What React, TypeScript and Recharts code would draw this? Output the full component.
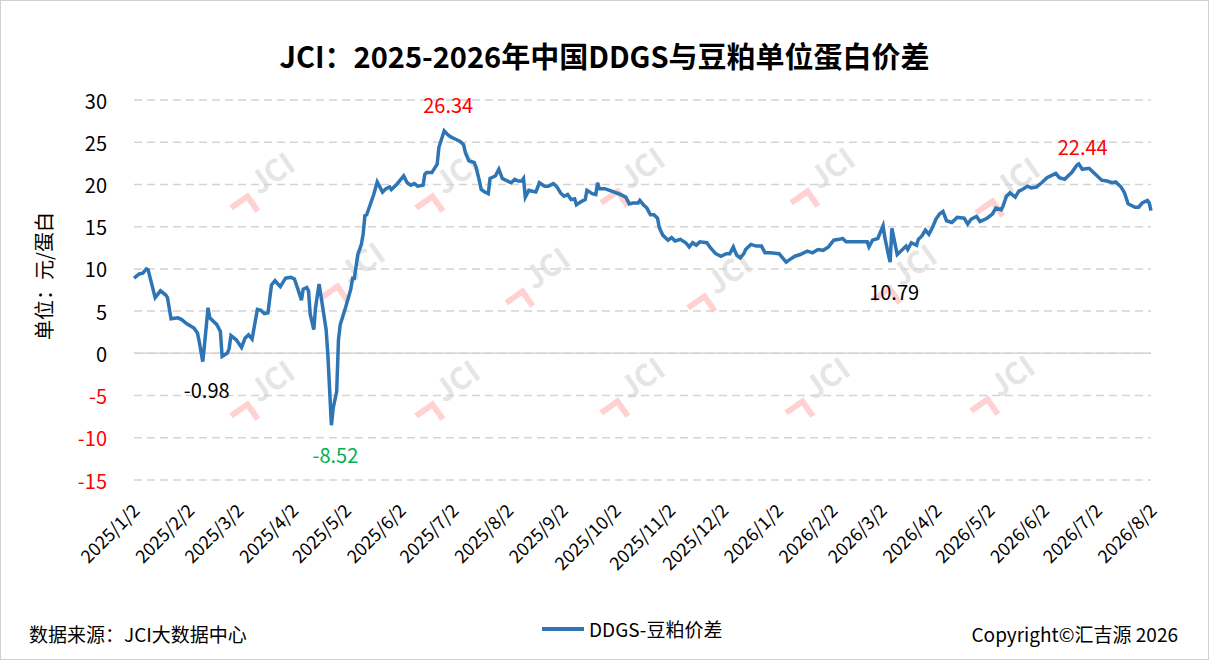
import React from "react"
import {
  LineChart,
  Line,
  XAxis,
  YAxis,
  CartesianGrid,
  ReferenceLine,
  ReferenceDot,
} from "recharts"

const dates = [
  "2025-01-02", "2025-01-05", "2025-01-07", "2025-01-09", "2025-01-10", "2025-01-14", "2025-01-17", "2025-01-20",
  "2025-01-21", "2025-01-23", "2025-01-27", "2025-01-29", "2025-02-01", "2025-02-05", "2025-02-07", "2025-02-08",
  "2025-02-10", "2025-02-11", "2025-02-13", "2025-02-14", "2025-02-18", "2025-02-20", "2025-02-21", "2025-02-24",
  "2025-02-25", "2025-02-26", "2025-03-01", "2025-03-04", "2025-03-06", "2025-03-08", "2025-03-10", "2025-03-13",
  "2025-03-15", "2025-03-17", "2025-03-19", "2025-03-21", "2025-03-23", "2025-03-26", "2025-03-29", "2025-04-01",
  "2025-04-03", "2025-04-05", "2025-04-07", "2025-04-08", "2025-04-10", "2025-04-11", "2025-04-12", "2025-04-14",
  "2025-04-15", "2025-04-17", "2025-04-18", "2025-04-21", "2025-04-22", "2025-04-24", "2025-04-25", "2025-04-27",
  "2025-04-28", "2025-04-29", "2025-05-02", "2025-05-05", "2025-05-06", "2025-05-07", "2025-05-09", "2025-05-11",
  "2025-05-12", "2025-05-13", "2025-05-14", "2025-05-16", "2025-05-18", "2025-05-20", "2025-05-23", "2025-05-25",
  "2025-05-27", "2025-05-28", "2025-05-31", "2025-06-04", "2025-06-06", "2025-06-08", "2025-06-10", "2025-06-12",
  "2025-06-15", "2025-06-16", "2025-06-17", "2025-06-20", "2025-06-23", "2025-06-24", "2025-06-27", "2025-06-29",
  "2025-07-01", "2025-07-02", "2025-07-06", "2025-07-08", "2025-07-09", "2025-07-11", "2025-07-14", "2025-07-15",
  "2025-07-17", "2025-07-18", "2025-07-20", "2025-07-22", "2025-07-23", "2025-07-26", "2025-07-28", "2025-07-30",
  "2025-08-02", "2025-08-04", "2025-08-06", "2025-08-08", "2025-08-10", "2025-08-11", "2025-08-12", "2025-08-14",
  "2025-08-16", "2025-08-18", "2025-08-20", "2025-08-23", "2025-08-25", "2025-08-28", "2025-08-30", "2025-09-01",
  "2025-09-03", "2025-09-05", "2025-09-07", "2025-09-09", "2025-09-10", "2025-09-13", "2025-09-15", "2025-09-16",
  "2025-09-19", "2025-09-21", "2025-09-22", "2025-09-23", "2025-09-26", "2025-09-30", "2025-10-04", "2025-10-08",
  "2025-10-10", "2025-10-12", "2025-10-15", "2025-10-16", "2025-10-18", "2025-10-20", "2025-10-22", "2025-10-24",
  "2025-10-26", "2025-10-27", "2025-10-29", "2025-11-01", "2025-11-03", "2025-11-05", "2025-11-08", "2025-11-11",
  "2025-11-13", "2025-11-15", "2025-11-17", "2025-11-19", "2025-11-23", "2025-11-25", "2025-11-28", "2025-12-01",
  "2025-12-04", "2025-12-06", "2025-12-08", "2025-12-10", "2025-12-12", "2025-12-14", "2025-12-15", "2025-12-18",
  "2025-12-21", "2025-12-24", "2025-12-26", "2025-12-29", "2026-01-03", "2026-01-05", "2026-01-07", "2026-01-09",
  "2026-01-12", "2026-01-15", "2026-01-19", "2026-01-22", "2026-01-25", "2026-01-28", "2026-01-31", "2026-02-03",
  "2026-02-06", "2026-02-08", "2026-02-10", "2026-02-14", "2026-02-19", "2026-02-22", "2026-02-23", "2026-02-25",
  "2026-02-28", "2026-03-03", "2026-03-04", "2026-03-06", "2026-03-07", "2026-03-08", "2026-03-11", "2026-03-13",
  "2026-03-16", "2026-03-17", "2026-03-19", "2026-03-22", "2026-03-23", "2026-03-25", "2026-03-27", "2026-03-29",
  "2026-03-31", "2026-04-02", "2026-04-04", "2026-04-06", "2026-04-08", "2026-04-11", "2026-04-14", "2026-04-18",
  "2026-04-20", "2026-04-22", "2026-04-25", "2026-04-27", "2026-05-01", "2026-05-04", "2026-05-06", "2026-05-09",
  "2026-05-10", "2026-05-12", "2026-05-14", "2026-05-17", "2026-05-19", "2026-05-21", "2026-05-24", "2026-05-26",
  "2026-05-29", "2026-06-01", "2026-06-04", "2026-06-07", "2026-06-09", "2026-06-11", "2026-06-14", "2026-06-18",
  "2026-06-21", "2026-06-22", "2026-06-24", "2026-06-27", "2026-06-28", "2026-07-01", "2026-07-05", "2026-07-08",
  "2026-07-11", "2026-07-13", "2026-07-16", "2026-07-18", "2026-07-20", "2026-07-24", "2026-07-26", "2026-07-28",
  "2026-07-31", "2026-08-01", "2026-08-02",
]

const spread = [
  8.9, 9.4, 9.5, 10.0, 9.9, 6.6, 7.4, 6.9,
  6.6, 4.1, 4.2, 4.0, 3.5, 3.0, 2.4, 1.4,
  -0.98, 1.0, 5.4, 4.2, 3.4, 2.6, -0.36, 0.04,
  0.6, 2.1, 1.6, 0.7, 1.8, 2.2, 1.7, 5.2,
  5.1, 4.7, 4.8, 8.1, 8.6, 7.9, 8.9, 9.0,
  8.8, 7.6, 6.3, 7.6, 7.8, 7.4, 4.6, 2.8,
  5.4, 8.2, 6.9, 2.8, -0.2, -8.52, -6.5, -4.5,
  1.6, 3.4, 5.4, 7.6, 8.9, 8.9, 11.7, 12.9,
  14.1, 16.3, 16.4, 17.6, 18.8, 20.3, 19.1, 19.5,
  19.7, 19.4, 20.0, 21.0, 20.2, 19.9, 20.1, 19.8,
  19.9, 21.2, 21.4, 21.4, 22.4, 24.4, 26.34, 25.9,
  25.6, 25.5, 25.1, 24.7, 23.8, 22.8, 22.6, 22.1,
  20.4, 19.4, 19.1, 18.9, 20.7, 21.0, 21.8, 20.7,
  20.4, 20.2, 20.6, 20.4, 20.4, 20.7, 18.5, 19.3,
  19.2, 19.1, 20.2, 19.8, 19.8, 20.1, 19.7, 19.0,
  18.6, 18.8, 18.2, 18.3, 17.6, 18.0, 18.2, 19.3,
  18.9, 18.8, 20.2, 19.5, 19.5, 19.2, 18.9, 18.5,
  17.7, 17.8, 17.8, 18.1, 17.6, 17.2, 16.4, 16.4,
  16.0, 14.9, 14.0, 13.4, 13.7, 13.3, 13.5, 13.1,
  12.6, 13.1, 12.8, 13.2, 13.1, 12.5, 11.8, 11.5,
  11.8, 11.8, 12.6, 11.6, 11.3, 11.8, 12.3, 12.9,
  12.7, 12.7, 11.9, 11.9, 11.8, 11.3, 10.8, 11.1,
  11.5, 11.7, 12.1, 11.9, 12.3, 12.2, 12.6, 13.4,
  13.5, 13.6, 13.2, 13.2, 13.2, 13.2, 12.6, 13.4,
  13.6, 15.1, 13.7, 11.7, 10.79, 14.8, 11.7, 12.1,
  12.7, 12.3, 13.1, 12.8, 13.5, 13.9, 14.6, 14.1,
  14.9, 15.9, 16.5, 16.8, 15.7, 15.5, 16.1, 16.0,
  15.3, 15.9, 16.2, 15.6, 16.0, 16.5, 17.2, 17.0,
  17.4, 18.6, 19.0, 18.5, 19.2, 19.4, 19.8, 19.6,
  19.7, 20.2, 20.8, 21.1, 21.3, 20.8, 20.6, 21.4,
  22.3, 22.44, 21.8, 21.9, 21.9, 21.3, 20.5, 20.4,
  20.2, 20.3, 19.7, 19.0, 17.7, 17.3, 17.3, 17.8,
  18.1, 17.8, 16.9,
]

const tickDates = [
  "2025-01-02", "2025-02-02", "2025-03-02", "2025-04-02", "2025-05-02", "2025-06-02", "2025-07-02",
  "2025-08-02", "2025-09-02", "2025-10-02", "2025-11-02", "2025-12-02", "2026-01-02", "2026-02-02",
  "2026-03-02", "2026-04-02", "2026-05-02", "2026-06-02", "2026-07-02", "2026-08-02",
]

const yTicks = [-15, -10, -5, 0, 5, 10, 15, 20, 25, 30]

const marks = [
  { date: "2025-02-10", text: "-0.98", color: "#000000", dy: 28 },
  { date: "2025-04-24", text: "-8.52", color: "#00b050", dy: 29 },
  { date: "2025-06-27", text: "26.34", color: "#ff0000", dy: -26 },
  { date: "2026-03-07", text: "10.79", color: "#000000", dy: 29 },
  { date: "2026-06-22", text: "22.44", color: "#ff0000", dy: -17 },
]

const FONT = "'Noto Sans CJK SC', 'Noto Sans', sans-serif"
const DAY = 86400000
const t0 = Date.parse(dates[0])
const toDay = (d: string) => Math.round((Date.parse(d) - t0) / DAY)
const fmt = (d: string) => {
  const [y, m, dd] = d.split("-")
  return `${y}/${Number(m)}/${Number(dd)}`
}

const data = dates.map((d, i) => ({ t: toDay(d), v: spread[i] }))
const xTicks = tickDates.map(toDay)

const XTick = ({ x, y, payload }: any) => {
  const label = fmt(tickDates[xTicks.indexOf(payload.value)] ?? dates[0])
  const ax = x - 5
  const ay = y + 12
  return (
    <text
      x={ax}
      y={ay}
      transform={`rotate(-45 ${ax} ${ay})`}
      textAnchor="end"
      dominantBaseline="hanging"
      fontSize={18}
      fontFamily={FONT}
      fill="#000"
    >
      {label}
    </text>
  )
}

const YTick = ({ y, payload }: any) => (
  <text
    x={106}
    y={y}
    textAnchor="end"
    dominantBaseline="central"
    fontSize={20}
    fontFamily={FONT}
    fill={payload.value < 0 ? "#ff0000" : "#000"}
  >
    {payload.value}
  </text>
)

const watermarks = [
  [265, 180], [450, 180], [635, 175], [825, 175], [1010, 185],
  [355, 270], [540, 275], [722, 280], [907, 272],
  [265, 388], [450, 388], [635, 385], [820, 385], [1005, 383],
]

export default function App() {
  return (
    <div
      style={{
        position: "absolute",
        left: 0,
        top: 0,
        width: 1209,
        height: 660,
        boxSizing: "border-box",
        border: "1px solid #d0d0d0",
        background: "#fff",
        fontFamily: FONT,
        overflow: "hidden",
      }}
    >
      <svg width={1209} height={660} style={{ position: "absolute", left: 0, top: 0 }}>
        {watermarks.map(([cx, cy], i) => (
          <g key={i} transform={`translate(${cx} ${cy}) rotate(-35)`} opacity={0.6}>
            <path d="M -44 2 L -24 2 L -24 20" fill="none" stroke="#ffb3b3" strokeWidth={6} />
            <text x={-14} y={8} fontSize={30} fontWeight={700} fill="#d4d4d4" fontFamily={FONT}>
              JCI
            </text>
          </g>
        ))}
      </svg>
      <div
        style={{
          position: "absolute",
          top: 36,
          width: "100%",
          textAlign: "center",
          fontSize: 29,
          lineHeight: "36px",
          fontWeight: 700,
          color: "#000",
        }}
      >
        JCI：2025-2026年中国DDGS与豆粕单位蛋白价差
      </div>
      <div
        style={{
          position: "absolute",
          left: 42,
          top: 275,
          transform: "translate(-50%, -50%) rotate(-90deg)",
          fontSize: 20,
          whiteSpace: "nowrap",
          color: "#000",
        }}
      >
        单位：元/蛋白
      </div>
      <div style={{ position: "absolute" }}>
        <LineChart
          width={1209}
          height={660}
          data={data}
          margin={{ top: 99, right: 59, left: 73, bottom: 91 }}
        >
          <CartesianGrid vertical={false} stroke="#d4d4d4" strokeDasharray="8 5" strokeWidth={1.5} />
          <XAxis
            dataKey="t"
            type="number"
            domain={[0, xTicks[xTicks.length - 1]]}
            ticks={xTicks}
            tick={<XTick />}
            axisLine={false}
            tickLine={false}
            height={90}
            interval={0}
          />
          <YAxis
            domain={[-15, 30]}
            ticks={yTicks}
            tick={<YTick />}
            axisLine={false}
            tickLine={false}
            width={60}
            interval={0}
          />
          <ReferenceLine y={0} stroke="#d4d4d4" strokeWidth={1.5} />
          <Line
            type="linear"
            dataKey="v"
            stroke="#2e75b6"
            strokeWidth={3.5}
            dot={false}
            isAnimationActive={false}
          />
          {marks.map((m) => (
            <ReferenceDot
              key={m.date}
              x={toDay(m.date)}
              y={spread[dates.indexOf(m.date)]}
              r={0}
              stroke="none"
              label={({ viewBox }: any) => (
                <text
                  x={viewBox.x + 4}
                  y={viewBox.y + m.dy}
                  textAnchor="middle"
                  dominantBaseline="central"
                  fontSize={20}
                  fontFamily={FONT}
                  fill={m.color}
                >
                  {m.text}
                </text>
              )}
            />
          ))}
        </LineChart>
      </div>
      <div style={{ position: "absolute", left: 28, top: 619, fontSize: 19, color: "#000" }}>
        数据来源：JCI大数据中心
      </div>
      <div
        style={{
          position: "absolute",
          left: 541,
          top: 614,
          display: "flex",
          alignItems: "center",
          fontSize: 19,
          color: "#000",
        }}
      >
        <span style={{ display: "inline-block", width: 42, height: 4, background: "#2e75b6", marginRight: 5 }} />
        DDGS-豆粕价差
      </div>
      <div style={{ position: "absolute", right: 30, top: 619, fontSize: 19, color: "#000" }}>
        Copyright©汇吉源 2026
      </div>
    </div>
  )
}
